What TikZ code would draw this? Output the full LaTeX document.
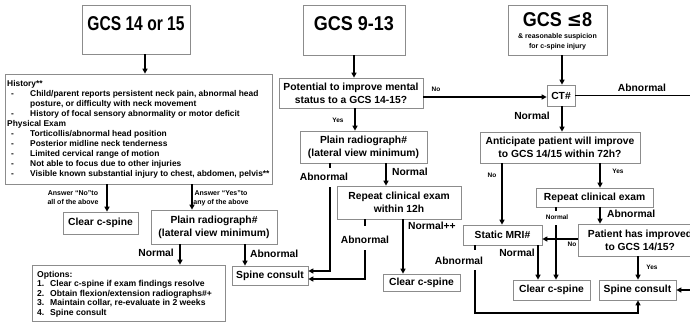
\documentclass[tikz,border=0pt]{standalone}
\usepackage{fontspec}
\setmainfont{Liberation Sans}
\newfontfamily\dejavu{DejaVu Sans}
\usetikzlibrary{arrows.meta,calc}
\begin{document}
\begin{tikzpicture}[x=1pt,y=-1pt,
  box/.style={draw=black!45, line width=0.7pt, inner sep=0pt, align=center, font=\fontsize{10.3}{13}\selectfont\bfseries},
  arr/.style={line width=1.3pt, -{Triangle[length=5pt,width=5pt]}},
  ln/.style={line width=1.3pt},
  lab/.style={font=\fontsize{10.3}{12}\selectfont\bfseries, inner sep=0pt},
  sm/.style={font=\fontsize{6.5}{9}\selectfont\bfseries, inner sep=0pt, align=center},
  hd/.style={font=\fontsize{20}{22}\selectfont\bfseries, inner sep=0pt},
  txt/.style={font=\fontsize{8.4}{10}\selectfont\bfseries, inner sep=0pt, align=left, anchor=north west},
]
\useasboundingbox (0,0) rectangle (690,322);

% ---------- boxes ----------
\node[box, minimum width=108pt, minimum height=49pt] (h1) at (136,29.5) {};
\node[hd] (h1t) at (136,24) {\scalebox{0.78}[1]{GCS 14 or 15}};
\node[box, minimum width=102pt, minimum height=50pt] (h2) at (354,30) {};
\node[hd] (h2t) at (354,24) {\scalebox{0.9}[1]{GCS 9-13}};
\node[box, minimum width=99pt, minimum height=50pt] (h3) at (557.5,30) {};
\node[hd] (h3t) at (557.5,20) {\scalebox{0.9}[1]{GCS {\dejavu\bfseries ≤}8}};
\node[sm, font=\fontsize{7}{10}\selectfont\bfseries] (h3s) at (557.5,41.5) {\& reasonable suspicion\\for c-spine injury};

\node[box, minimum width=267pt, minimum height=110pt] (hist) at (138.5,129) {};
\node[txt] (histt) at (7,80) {History**\\
\hspace*{4pt}\makebox[19pt][l]{-}Child/parent reports persistent neck pain, abnormal head\\
\hspace*{23pt}posture, or difficulty with neck movement\\
\hspace*{4pt}\makebox[19pt][l]{-}History of focal sensory abnormality or motor deficit\\
Physical Exam\\
\hspace*{4pt}\makebox[19pt][l]{-}Torticollis/abnormal head position\\
\hspace*{4pt}\makebox[19pt][l]{-}Posterior midline neck tenderness\\
\hspace*{4pt}\makebox[19pt][l]{-}Limited cervical range of motion\\
\hspace*{4pt}\makebox[19pt][l]{-}Not able to focus due to other injuries\\
\hspace*{4pt}\makebox[19pt][l]{-}Visible known substantial injury to chest, abdomen, pelvis**};

\node[box, minimum width=75pt, minimum height=22pt] (clear1) at (100.5,223) {Clear c-spine};
\node[box, minimum width=126pt, minimum height=34pt] (plain1) at (214,227) {Plain radiograph\#\\(lateral view minimum)};
\node[box, minimum width=193pt, minimum height=56pt] (opts) at (128.5,293) {};
\node[txt, font=\fontsize{8.6}{9.5}\selectfont\bfseries] (optst) at (37,271) {Options:\\
\makebox[13pt][l]{1.}Clear c-spine if exam findings resolve\\
\makebox[13pt][l]{2.}Obtain flexion/extension radiographs\#+\\
\makebox[13pt][l]{3.}Maintain collar, re-evaluate in 2 weeks\\
\makebox[13pt][l]{4.}Spine consult};
\node[box, minimum width=76pt, minimum height=19pt] (spine1) at (270,275.5) {Spine consult};

\node[box, minimum width=144pt, minimum height=30pt] (pot) at (351,93) {Potential to improve mental\\status to a GCS 14-15?};
\node[box, minimum width=127pt, minimum height=32pt] (plain2) at (363.5,147) {Plain radiograph\#\\(lateral view minimum)};
\node[box, minimum width=124pt, minimum height=33pt] (rep2) at (399,202.5) {Repeat clinical exam\\within 12h};
\node[box, minimum width=77pt, minimum height=17pt] (clear2) at (421.5,282.5) {Clear c-spine};

\node[box, minimum width=28pt, minimum height=21pt] (ct) at (561,95.5) {CT\#};
\node[box, minimum width=160pt, minimum height=31pt] (anti) at (560,147.5) {Anticipate patient will improve\\to GCS 14/15 within 72h?};
\node[box, minimum width=117pt, minimum height=19pt] (rep3) at (594.5,197.5) {Repeat clinical exam};
\node[box, minimum width=124pt, minimum height=32pt] (pat) at (640,240) {Patient has improved\\to GCS 14/15?};
\node[box, minimum width=79pt, minimum height=20pt] (mri) at (502.5,235) {Static MRI\#};
\node[box, minimum width=77pt, minimum height=20pt] (clear3) at (551.5,290) {Clear c-spine};
\node[box, minimum width=77pt, minimum height=20pt] (spine3) at (637.5,290) {Spine consult};

% ---------- helper coordinates ----------
\coordinate (x145) at (145,0);
\coordinate (x107) at (107,0);
\coordinate (x192) at (192,0);
\coordinate (x180) at (180,0);
\coordinate (x245) at (245,0);
\coordinate (x354) at (354,0);
\coordinate (x355) at (355,0);
\coordinate (x386) at (386,0);
\coordinate (x403) at (403,0);
\coordinate (x562) at (562,0);
\coordinate (x502) at (502,0);
\coordinate (x600) at (600,0);
\coordinate (x538) at (538,0);
\coordinate (x638) at (638,0);
\coordinate (y97) at (0,97);
\coordinate (y239) at (0,239);
\coordinate (a2t) at (330,168);
\coordinate (a2b) at (330,187);
\coordinate (r2t) at (365,226);
\coordinate (r2b) at (365,250);
\coordinate (r3t) at (556,211);
\coordinate (r3b) at (556,225);
\coordinate (m1t) at (475,250);
\coordinate (m1b) at (475,270);
\coordinate (m1c) at (475,313);
\coordinate (ctr) at (700,95.5);

% ---------- connectors ----------
\draw[arr] (h1.south -| x145) -- (hist.north -| x145);
\draw[arr] (hist.south -| x107) -- (clear1.north -| x107);
\draw[arr] (hist.south -| x192) -- (plain1.north -| x192);
\draw[arr] (plain1.south -| x180) -- (opts.north -| x180);
\draw[arr] (plain1.south -| x245) -- (spine1.north -| x245);

\draw[arr] (h2.south -| x354) -- (pot.north -| x354);
\draw[arr] (pot.east |- y97) -- (ct.west |- y97);
\draw[arr] (pot.south -| x355) -- (plain2.north -| x355);
\draw[arr] (plain2.south -| x386) -- (rep2.north -| x386);
\draw[ln] (plain2.south -| a2t) -- (a2t);
\draw[arr] (a2b) |- ([yshift=4.5pt]spine1.east);
\draw[ln] (rep2.south -| r2t) -- (r2t);
\draw[arr] (r2b) |- ([yshift=-3.5pt]spine1.east);
\draw[arr] (rep2.south -| x403) -- (clear2.north -| x403);

\draw[arr] (h3.south -| x562) -- (ct.north -| x562);
\draw[arr] (ct.east) -- (ctr) |- (spine3.east);
\draw[arr] (ct.south -| x562) -- (anti.north -| x562);
\draw[arr] (anti.south -| x502) -- (mri.north -| x502);
\draw[arr] (anti.south -| x600) -- (rep3.north -| x600);
\draw[arr] (rep3.south -| x600) -- (pat.north -| x600);
\draw[ln] (rep3.south -| r3t) -- (r3t);
\draw[arr] (r3b) -- (clear3.north -| r3b);
\draw[arr] (pat.west |- y239) -- (mri.east |- y239);
\draw[arr] (mri.south -| x538) -- (clear3.north -| x538);
\draw[ln] (mri.south -| m1t) -- (m1t);
\draw[arr] (m1b) -- (m1c) -| (spine3.south -| x638);
\draw[arr] (pat.south -| x638) -- (spine3.north -| x638);

% ---------- labels ----------
\node[sm, font=\fontsize{7}{9}\selectfont\bfseries] (lno1) at (73,198) {Answer “No”to\\all of the above};
\node[sm, font=\fontsize{7}{9}\selectfont\bfseries] (lyes1) at (221,198) {Answer “Yes”to\\any of the above};
\node[lab, anchor=east] (ln1) at (174,253) {Normal};
\node[lab, anchor=west] (lab1) at (250,254) {Abnormal};
\node[sm] (lno2) at (436,89) {No};
\node[sm] (lyes2) at (338,120) {Yes};
\node[lab, anchor=west] (ln2) at (392,172) {Normal};
\node[lab] (ab2) at (324,177) {Abnormal};
\node[lab] (ab3) at (365,240) {Abnormal};
\node[lab, anchor=west] (ln3) at (408,226) {Normal++};
\node[lab] (ab4) at (642,88) {Abnormal};
\node[lab] (ln4) at (532,116) {Normal};
\node[sm] (lno3) at (492,175) {No};
\node[sm] (lyes3) at (618,171) {Yes};
\node[lab, anchor=west] (ab5) at (607,214) {Abnormal};
\node[sm] (ln5) at (557,217) {Normal};
\node[sm] (lno4) at (572,244) {No};
\node[lab] (ln6) at (517,253) {Normal};
\node[lab] (ab6) at (459,261) {Abnormal};
\node[sm] (lyes4) at (652,267) {Yes};
\end{tikzpicture}
\end{document}
